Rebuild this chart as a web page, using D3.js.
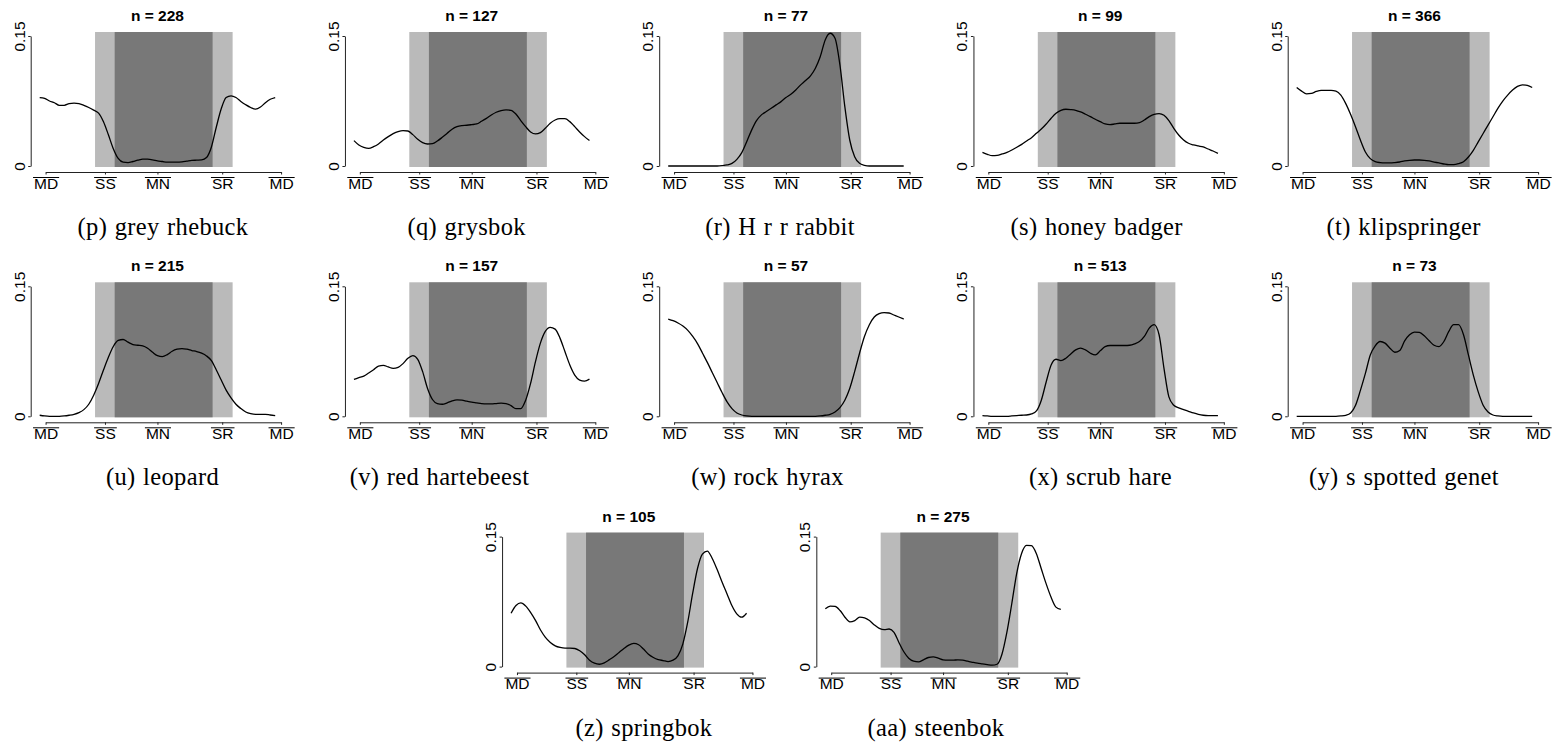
<!DOCTYPE html>
<html>
<head>
<meta charset="utf-8">
<script src="https://d3js.org/d3.v7.min.js"></script>
<style>
  body { margin: 0; background: #fff; }
  svg { display: block; font-family: "Liberation Sans", Arial, sans-serif; }
  .cap { font-family: "Liberation Serif", "Times New Roman", serif; font-size: 24.5px; letter-spacing: 0.35px; word-spacing: 1px; }
</style>
</head>
<body>
<svg id="chart" width="1556" height="745"></svg>
<script>
// time of day, hours after midday (MD -> MD)
var hours = [0,0.5,1,1.5,2,2.5,3,3.5,4,4.5,5,5.5,6,6.5,7,7.5,8,8.5,9,9.5,10,10.5,11,11.5,12,
             12.5,13,13.5,14,14.5,15,15.5,16,16.5,17,17.5,18,18.5,19,19.5,20,20.5,21,21.5,22,22.5,23,23.5,24];

var letters = ["p","q","r","s","t","u","v","w","x","y","z","aa"];
var species = ["grey rhebuck","grysbok","H r r rabbit","honey badger","klipspringer",
               "leopard","red hartebeest","rock hyrax","scrub hare","s spotted genet",
               "springbok","steenbok"];
var nObs = [228,127,77,99,366,215,157,57,513,73,105,275];

var tickLabels = ["MD","SS","MN","SR","MD"];
var tickHours  = [0.6,6.65,12,18.6,24.6];
var twilight = [5.64,19.66];
var night    = [7.64,17.62];
var yTicks   = [0,0.15];

// activity density curves
var greyRhebuck = [0.079,0.078,0.075,0.073,0.070,0.070,0.072,0.0725,0.072,0.070,0.0675,0.0645,0.061,
  0.051,0.036,0.020,0.0087,0.0044,0.004,0.0052,0.0067,0.0079,0.0079,0.0071,0.006,
  0.0052,0.0044,0.0044,0.0044,0.0048,0.0056,0.0064,0.0067,0.007,0.0098,0.022,0.045,
  0.066,0.079,0.081,0.079,0.0745,0.0707,0.0675,0.0656,0.068,0.073,0.077,0.079];
var grysbok = [0.0293,0.0243,0.0216,0.0204,0.0223,0.0254,0.030,0.0339,0.0373,0.0397,0.0408,0.0404,0.0362,
  0.0308,0.027,0.0254,0.0258,0.0289,0.0331,0.0377,0.0424,0.0454,0.0466,0.047,0.0477,
  0.0485,0.0516,0.055,0.0589,0.062,0.0639,0.0647,0.0643,0.060,0.0524,0.0454,0.0393,
  0.037,0.0385,0.0435,0.0493,0.0531,0.0547,0.0547,0.0512,0.0454,0.0393,0.0339,0.0293];
var rabbit = [0,0,0,0,0,0,0,0,0,0,0,0.0004,0.0012,
  0.003,0.0077,0.0154,0.028,0.0414,0.0524,0.059,0.0628,0.0666,0.0705,0.0743,0.079,
  0.0828,0.0878,0.0936,0.0986,0.104,0.1128,0.1263,0.1455,0.1532,0.1474,0.1166,0.0685,
  0.030,0.0108,0.0031,0.0008,0,0,0,0,0,0,0,0];
var honeyBadger = [0.0158,0.0135,0.0119,0.0123,0.0139,0.0158,0.0185,0.0216,0.025,0.0289,0.0327,0.0377,0.0427,
  0.0485,0.0551,0.0609,0.0643,0.0655,0.0651,0.0643,0.0624,0.0597,0.057,0.0539,0.0512,
  0.0485,0.0477,0.0485,0.0493,0.0493,0.0493,0.0493,0.05,0.0531,0.057,0.0597,0.0605,
  0.0585,0.0524,0.0435,0.0358,0.030,0.0262,0.0243,0.0231,0.022,0.0196,0.0173,0.0146];
var klipspringer = [0.0906,0.0864,0.0833,0.0837,0.086,0.0872,0.0872,0.0872,0.0864,0.0818,0.072,0.0594,0.0451,
  0.0297,0.0162,0.0085,0.005,0.0039,0.0035,0.0035,0.0039,0.0046,0.0058,0.0066,0.0069,
  0.0069,0.0066,0.0058,0.0046,0.0035,0.0023,0.0015,0.0015,0.0027,0.005,0.0104,0.0181,
  0.0278,0.0375,0.0472,0.0568,0.0665,0.0749,0.0818,0.0876,0.0918,0.0937,0.093,0.0906];
var leopard = [0.0012,0.0004,0,0,0,0.0004,0.0012,0.0023,0.0043,0.0077,0.0139,0.0244,0.0379,
  0.0534,0.0681,0.0805,0.0875,0.0886,0.0855,0.0828,0.082,0.0813,0.0786,0.0739,0.07,
  0.0689,0.0712,0.0751,0.0774,0.0782,0.0774,0.0759,0.0747,0.0728,0.0697,0.0642,0.0534,
  0.0418,0.0302,0.0213,0.0139,0.0089,0.005,0.0031,0.0023,0.0023,0.0023,0.0015,0.0008];
var redHartebeest = [0.0426,0.0445,0.0464,0.0499,0.0538,0.058,0.0588,0.0569,0.0553,0.0565,0.0608,0.067,0.0701,
  0.0658,0.0515,0.0321,0.0194,0.0147,0.0139,0.0155,0.0178,0.019,0.0186,0.0174,0.0163,
  0.0155,0.0147,0.0143,0.0143,0.0147,0.0151,0.0147,0.0124,0.0089,0.0089,0.0186,0.0379,
  0.063,0.0844,0.0979,0.1026,0.1006,0.0902,0.0747,0.0592,0.0476,0.0418,0.0406,0.0429];
var rockHyrax = [0.1122,0.1103,0.1076,0.1041,0.0991,0.0921,0.0836,0.0728,0.0619,0.0503,0.0387,0.0271,0.0166,
  0.0089,0.0039,0.0015,0.0004,0,0,0,0,0,0,0,0,
  0,0,0,0,0,0,0.0004,0.0012,0.0023,0.005,0.01,0.0186,
  0.0321,0.0515,0.0728,0.0921,0.1057,0.1146,0.1184,0.1196,0.1192,0.1169,0.1146,0.1122];
var scrubHare = [0.0008,0.0004,0,0,0,0,0.0004,0.0008,0.0012,0.0015,0.0027,0.0062,0.0186,
  0.0399,0.0592,0.0658,0.0642,0.067,0.072,0.0766,0.0786,0.0766,0.0728,0.0708,0.0755,
  0.0805,0.0817,0.0817,0.0817,0.0817,0.082,0.0836,0.0863,0.0921,0.1018,0.1057,0.0941,
  0.0553,0.0224,0.0128,0.0097,0.0077,0.0058,0.0039,0.0023,0.0012,0.0008,0.0008,0.0008];
var spottedGenet = [0,0,0,0,0,0,0,0,0,0.0004,0.0012,0.0039,0.0128,
  0.0302,0.0495,0.0708,0.0813,0.0863,0.0844,0.0786,0.0739,0.0759,0.0871,0.0941,0.0972,
  0.0968,0.0929,0.0871,0.082,0.0805,0.0863,0.098,0.1057,0.1057,0.0941,0.0708,0.0476,
  0.0282,0.0128,0.005,0.0015,0.0004,0,0,0,0,0,0,0];
var springbok = [0.0616,0.0705,0.0736,0.0698,0.0624,0.0531,0.0422,0.0337,0.0279,0.024,0.0221,0.0213,0.0213,
  0.0209,0.0182,0.0136,0.0074,0.0039,0.0027,0.0043,0.0078,0.0116,0.0163,0.0209,0.0248,
  0.0267,0.0252,0.0202,0.0143,0.0105,0.0081,0.007,0.0058,0.0074,0.0124,0.026,0.0512,
  0.0841,0.1132,0.1298,0.1333,0.1248,0.112,0.0977,0.0841,0.0705,0.0609,0.057,0.0616];
var steenbok = [0.0667,0.0698,0.0694,0.0647,0.057,0.0516,0.0531,0.057,0.0562,0.0531,0.0481,0.0442,0.0426,
  0.0434,0.0395,0.0279,0.0171,0.0097,0.0062,0.0054,0.0078,0.0105,0.0112,0.0097,0.0078,
  0.0074,0.0074,0.0078,0.0074,0.0062,0.005,0.0039,0.0031,0.0023,0.0016,0.0027,0.0143,
  0.0395,0.0725,0.1074,0.1306,0.1399,0.1395,0.1306,0.1132,0.0957,0.0802,0.0686,0.0659];

var densities = [greyRhebuck, grysbok, rabbit, honeyBadger, klipspringer, leopard,
                 redHartebeest, rockHyrax, scrubHare, spottedGenet, springbok, steenbok];

// layout: where each panel sits (y-axis x position, row top) and caption centres
var colStep = 314.25, firstAxis = 30.7, rowStep = 250.3;
var capX = [163, 466.7, 780, 1096.7, 1403.7, 162.5, 439.5, 767.5, 1100.5, 1404, 644, 936];

var svg = d3.select("#chart");

densities.forEach(function(dens, i) {
  var row = Math.floor(i / 5);
  var col = row < 2 ? i % 5 : (i - 10) + 1.5;
  var ax = firstAxis + col * colStep;
  var top = row * rowStep;
  drawPanel(i, dens, ax, top);
});

function drawPanel(i, dens, ax, top) {
  var g = svg.append("g");

  var x = d3.scaleLinear().domain([0, 24]).range([ax + 9, ax + 244.5]);
  var y = d3.scaleLinear().domain([0, 0.15]).range([top + 166, top + 36]);

  // twilight + night bands
  g.append("rect")
    .attr("x", x(twilight[0])).attr("width", x(twilight[1]) - x(twilight[0]))
    .attr("y", top + 32).attr("height", 135)
    .attr("fill", "#bababa");
  g.append("rect")
    .attr("x", x(night[0])).attr("width", x(night[1]) - x(night[0]))
    .attr("y", top + 32).attr("height", 135)
    .attr("fill", "#787878");

  // density line
  var line = d3.line()
    .x(function(d, k) { return x(hours[k]); })
    .y(function(d) { return y(d); })
    .curve(d3.curveMonotoneX);
  g.append("path")
    .datum(dens)
    .attr("d", line)
    .attr("fill", "none")
    .attr("stroke", "#000")
    .attr("stroke-width", 1.3);

  // x axis (from first MD tick to last MD tick)
  var xa = d3.scaleLinear()
    .domain([tickHours[0], tickHours[tickHours.length - 1]])
    .range([x(tickHours[0]), x(tickHours[tickHours.length - 1])]);
  var xAxis = g.append("g")
    .attr("transform", "translate(0," + (top + 172) + ")")
    .call(d3.axisBottom(xa).tickValues(tickHours).tickSize(2.5).tickSizeOuter(0).tickPadding(3)
      .tickFormat(function(d, k) { return tickLabels[k]; }));
  xAxis.selectAll("text")
    .attr("fill", "#000")
    .style("font-size", "15.5px")
    .style("font-family", "'Liberation Sans', Arial, sans-serif");
  xAxis.select(".domain").attr("stroke", "#222");
  xAxis.selectAll(".tick line").attr("stroke", "#222");
  // overline on each label
  xAxis.selectAll(".tick").each(function() {
    var t = d3.select(this);
    var w = t.select("text").node().getComputedTextLength();
    t.append("line")
      .attr("x1", -w / 2 - 1).attr("x2", w / 2 + 1)
      .attr("y1", 5.5).attr("y2", 5.5)
      .attr("stroke", "#000").attr("stroke-width", 1);
  });

  // y axis
  var yAxis = g.append("g")
    .attr("transform", "translate(" + ax + ",0)")
    .call(d3.axisLeft(y).tickValues(yTicks).tickSize(2.5).tickSizeOuter(0)
      .tickFormat(function(d) { return d === 0 ? "0" : "0.15"; }));
  yAxis.select(".domain").attr("stroke", "#222");
  yAxis.selectAll(".tick line").attr("stroke", "#222");
  yAxis.selectAll("text")
    .attr("fill", "#000")
    .attr("transform", "rotate(-90)")
    .attr("x", 0).attr("y", -6).attr("dy", 0)
    .attr("text-anchor", "middle")
    .style("font-size", "15.5px")
    .style("font-family", "'Liberation Sans', Arial, sans-serif");

  // title
  g.append("text")
    .attr("x", (x(0) + x(24)) / 2)
    .attr("y", top + 21)
    .attr("text-anchor", "middle")
    .style("font-weight", "bold")
    .style("font-size", "15.5px")
    .text("n = " + nObs[i]);

  // sub-figure caption
  g.append("text")
    .attr("class", "cap")
    .attr("x", capX[i])
    .attr("y", top + 235)
    .attr("text-anchor", "middle")
    .text("(" + letters[i] + ") " + species[i]);
}
</script>
</body>
</html>
